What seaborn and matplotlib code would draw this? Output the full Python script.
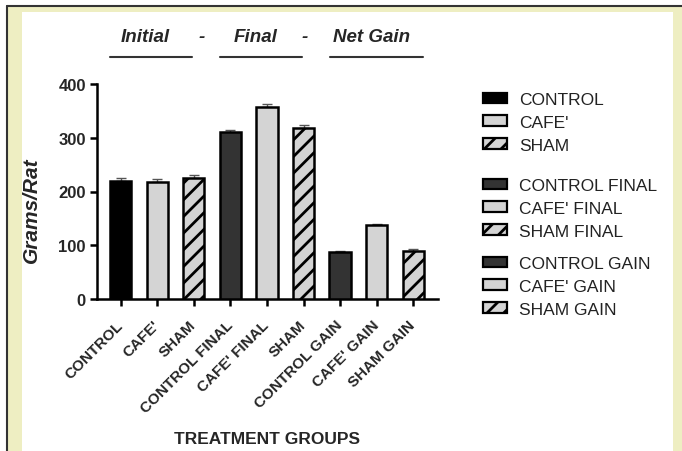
import matplotlib
matplotlib.use("Agg")
import matplotlib.pyplot as plt
import seaborn as sns
import pandas as pd
from matplotlib.patches import Patch, Rectangle
from matplotlib.lines import Line2D

# Treatment groups (bar order) and their displayed tick labels
groups = ["CONTROL", "CAFE'", "SHAM", "CONTROL FINAL", "CAFE' FINAL", "SHAM FINAL",
          "CONTROL GAIN", "CAFE' GAIN", "SHAM GAIN"]
tick_labels = ["CONTROL", "CAFE'", "SHAM", "CONTROL FINAL", "CAFE' FINAL", "SHAM",
               "CONTROL GAIN", "CAFE' GAIN", "SHAM GAIN"]
grams = [220, 218, 225, 310, 358, 318, 88, 137, 90]
sem = [5, 6, 6, 5, 4, 6, 2, 3, 3]
y_ticks = [0, 100, 200, 300, 400]

fills = ["#000000", "#d4d4d4", "#d4d4d4", "#333333", "#d4d4d4", "#d4d4d4",
         "#333333", "#d4d4d4", "#d4d4d4"]
hatches = ["", "", "//", "", "", "//", "", "", "//"]

sns.set_style("white")
plt.rcParams["font.family"] = ["Liberation Sans", "DejaVu Sans"]
plt.rcParams["hatch.linewidth"] = 2.0
plt.rcParams["hatch.color"] = "black"

W, H = 682, 452
fig = plt.figure(figsize=(W / 100, H / 100), dpi=100)
fig.patch.set_facecolor("white")


def fx(x):
    return x / W


def fy(y):
    return 1 - y / H


# page frame: dark edge, pale yellow border, white panel
fig.patches.append(Rectangle((fx(7), 0), 1 - fx(7), fy(7), transform=fig.transFigure,
                             facecolor="#eeeec2", edgecolor="none", zorder=-3))
fig.patches.append(Rectangle((fx(22), 0), fx(673) - fx(22), fy(13), transform=fig.transFigure,
                             facecolor="white", edgecolor="none", zorder=-2))
fig.lines.append(Line2D([fx(6.5), fx(6.5)], [0, fy(6.5)], transform=fig.transFigure,
                        color="#333333", lw=1.5))
fig.lines.append(Line2D([fx(6.5), 1], [fy(6.5), fy(6.5)], transform=fig.transFigure,
                        color="#333333", lw=1.5))

ax = fig.add_axes([fx(97), fy(300), fx(438) - fx(97), fy(85) - fy(300)])
ax.set_facecolor("white")

df = pd.DataFrame({"group": groups, "grams": grams})
sns.barplot(data=df, x="group", y="grams", hue="group", order=groups, hue_order=groups,
            palette=dict(zip(groups, fills)), legend=False, width=0.58,
            edgecolor="black", linewidth=1.8, errorbar=None, ax=ax, zorder=3)
for patch, h in zip(ax.patches, hatches):
    patch.set_hatch(h)

ax.errorbar(range(len(groups)), grams, yerr=[[0] * len(sem), sem], fmt="none",
            ecolor="#555555", elinewidth=1.0, capsize=3.5, capthick=1.0, zorder=2)

ax.set_xlim(-0.65, 8.68)
ax.set_ylim(0, 400)
ax.set_yticks(y_ticks)
ax.set_yticklabels([str(v) for v in y_ticks], fontsize=12, fontweight="bold")
ax.set_xticks(range(len(groups)))
ax.set_xticklabels(tick_labels, rotation=45, ha="right", va="center",
                   rotation_mode="anchor", fontsize=11, fontweight="bold")
ax.tick_params(axis="both", length=5, width=1.8, color="black", direction="out",
               bottom=True, left=True)
ax.tick_params(axis="x", pad=12)
ax.tick_params(axis="y", pad=3)
for side in ["top", "right"]:
    ax.spines[side].set_visible(False)
for side in ["left", "bottom"]:
    ax.spines[side].set_linewidth(1.8)
    ax.spines[side].set_color("black")

ax.set_xlabel("")
ax.set_ylabel("Grams/Rat", fontsize=15, fontweight="bold", fontstyle="italic")
ax.yaxis.set_label_coords(-0.165, 0.42)

fig.text(fx(267), fy(440), "TREATMENT GROUPS", ha="center", va="center",
         fontsize=12.5, fontweight="bold")

# header naming the three bar sets
for txt, x in [("Initial", 145), ("-", 202), ("Final", 256), ("-", 305), ("Net Gain", 372)]:
    fig.text(fx(x), fy(37), txt, ha="center", va="center", fontsize=13.5,
             fontweight="bold", fontstyle="italic")
for x0, x1 in [(110, 192), (220, 302), (330, 423)]:
    fig.lines.append(Line2D([fx(x0), fx(x1)], [fy(58), fy(58)], transform=fig.transFigure,
                            color="#333333", lw=1.5))

# legend in three blocks
blocks = [(0, 93), (3, 179), (6, 257)]
for start, top in blocks:
    handles = [Patch(facecolor=fills[i], edgecolor="black", hatch=hatches[i], linewidth=1.6,
                     label=groups[i]) for i in range(start, start + 3)]
    leg = fig.legend(handles=handles, loc="upper left", bbox_to_anchor=(fx(483), fy(top)),
                     bbox_transform=fig.transFigure, frameon=False, fontsize=12.5,
                     handlelength=1.37, handleheight=0.57, handletextpad=0.7,
                     labelspacing=0.45, borderpad=0, borderaxespad=0)
    for t in leg.get_texts():
        t.set_color("#222222")

fig.savefig("out.png", dpi=100)
